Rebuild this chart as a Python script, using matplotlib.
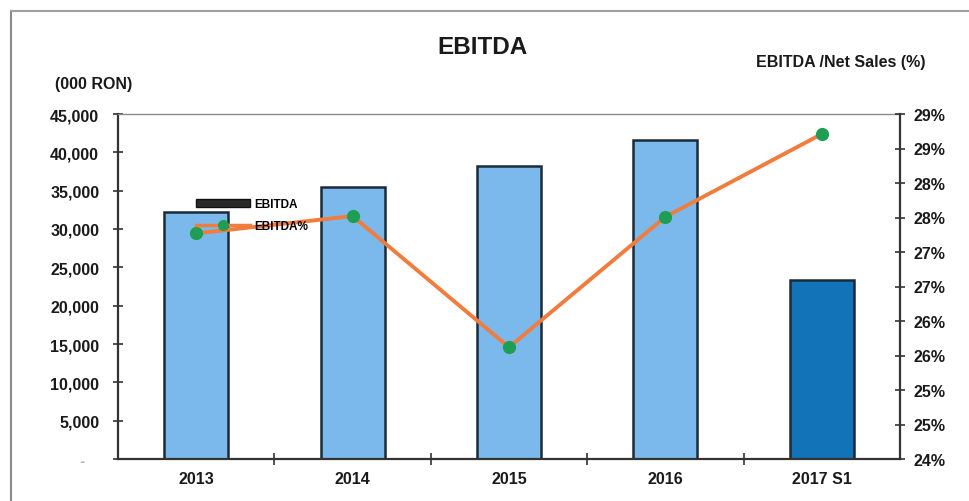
import matplotlib
matplotlib.use("Agg")
import matplotlib.pyplot as plt
from matplotlib.lines import Line2D
from matplotlib.patches import Patch

categories = ["2013", "2014", "2015", "2016", "2017 S1"]
ebitda = [32200, 35500, 38200, 41600, 23300]
ebitda_pct = [27.27, 27.52, 25.62, 27.51, 28.71]
left_ticks = [0, 5000, 10000, 15000, 20000, 25000, 30000, 35000, 40000, 45000]
left_labels = ["-   ", "5,000", "10,000", "15,000", "20,000", "25,000", "30,000", "35,000", "40,000", "45,000"]
right_ticks = [24.0, 24.5, 25.0, 25.5, 26.0, 26.5, 27.0, 27.5, 28.0, 28.5, 29.0]
right_labels = ["24%", "25%", "25%", "26%", "26%", "27%", "27%", "28%", "28%", "29%", "29%"]

plt.rcParams['font.family'] = ['Liberation Sans', 'DejaVu Sans']
plt.rcParams['font.weight'] = 'bold'

W, H = 970, 502
fig = plt.figure(figsize=(W / 100, H / 100), dpi=100)
fig.patch.set_facecolor('white')

ax = fig.add_axes([118 / W, (H - 460) / H, (900 - 118) / W, (460 - 115) / H])
x = list(range(len(categories)))
light = '#7BB9EC'
dark = '#1273B9'
colors = [light] * (len(categories) - 1) + [dark]
bars = ax.bar(x, ebitda, width=0.41, color=colors, edgecolor='#1c2a38', linewidth=1.8, zorder=2)
ax.set_xlim(-0.5, len(categories) - 0.5)
ax.set_ylim(0, 45000)
ax.set_yticks(left_ticks)
ax.set_yticklabels(left_labels, fontsize=11.5, fontweight='bold', color='#1a1a1a')
ax.get_yticklabels()[0].set_color('#bbbbbb')
ax.set_xticks(x)
ax.set_xticklabels(categories, fontsize=11.5, fontweight='bold', color='#1a1a1a')
ax.set_xticks([i + 0.5 for i in range(len(categories) - 1)], minor=True)
ax.tick_params(axis='x', which='major', length=0, pad=9)
ax.tick_params(axis='x', which='minor', direction='inout', length=8, width=1.2, color='#333333')
ax.tick_params(axis='y', direction='inout', length=7, width=1.2, color='#333333', pad=10)
for s in ['left', 'bottom']:
    ax.spines[s].set_color('#333333')
    ax.spines[s].set_linewidth(1.6)
ax.spines['top'].set_color('#8a8a8a')
ax.spines['top'].set_linewidth(1.0)
ax.spines['right'].set_visible(False)

ax2 = ax.twinx()
ax2.set_ylim(24, 29)
ax2.set_yticks(right_ticks)
ax2.set_yticklabels(right_labels, fontsize=11.5, fontweight='bold', color='#1a1a1a')
ax2.tick_params(axis='y', direction='inout', length=7, width=1.2, color='#333333', pad=6)
ax2.spines['right'].set_color('#333333')
ax2.spines['right'].set_linewidth(1.6)
for s in ['left', 'top', 'bottom']:
    ax2.spines[s].set_visible(False)
line, = ax2.plot(x, ebitda_pct, color='#F07C3E', linewidth=2.8, marker='o', markersize=8.5,
                 markerfacecolor='#1E9E52', markeredgecolor='#1E9E52', zorder=3)

handles = [Patch(facecolor='#2a2a2a', edgecolor='#111111', linewidth=1),
           Line2D([0], [0], color='#F07C3E', linewidth=2.5, marker='o', markersize=7,
                  markerfacecolor='#1E9E52', markeredgecolor='#1E9E52')]
leg = fig.legend(handles, ['EBITDA', 'EBITDA%'], loc='upper left',
                 bbox_to_anchor=(190 / W, 1 - 193 / H), frameon=False,
                 prop={'family': 'Liberation Sans', 'weight': 'bold', 'size': 8.5},
                 handlelength=4.6, handleheight=0.7, labelspacing=0.85, handletextpad=0.35,
                 borderpad=0)

fig.text(483 / W, 1 - 47 / H, 'EBITDA', ha='center', va='center', fontsize=17.5, fontweight='bold', color='#1a1a1a')
fig.text(55 / W, 1 - 85 / H, '(000 RON)', ha='left', va='center', fontsize=11.5, fontweight='bold', color='#1a1a1a')
fig.text(926 / W, 1 - 62 / H, 'EBITDA /Net Sales (%)', ha='right', va='center', fontsize=11.5, fontweight='bold', color='#1a1a1a')

fig.add_artist(Line2D([11 / W, 11 / W], [0, 1 - 12 / H], transform=fig.transFigure, color='#8a8a8a', linewidth=1.5))
fig.add_artist(Line2D([11 / W, 1], [1 - 12 / H, 1 - 12 / H], transform=fig.transFigure, color='#a0a0a0', linewidth=1.5))

fig.savefig('out.png', dpi=100, facecolor='white')
